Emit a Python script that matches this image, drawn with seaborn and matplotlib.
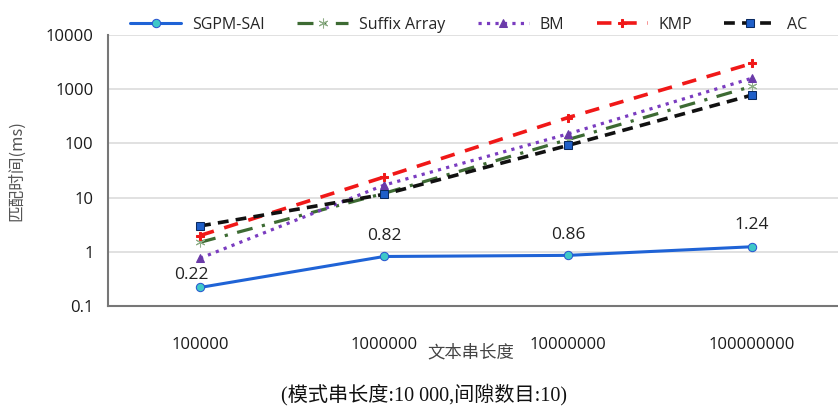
import numpy as np
import pandas as pd
import matplotlib
matplotlib.use("Agg")
import matplotlib.pyplot as plt
import seaborn as sns

# data (ms, log scale)
text_len = ["100000", "1000000", "10000000", "100000000"]
sgpm_sai = [0.22, 0.82, 0.86, 1.24]
suffix_array = [1.5, 12, 118, 1130]
bm = [0.76, 17, 150, 1600]
kmp = [2.0, 24, 300, 3000]
ac = [3.0, 11.5, 92, 780]

y_ticks = [0.1, 1, 10, 100, 1000, 10000]
y_tick_labels = ["0.1", "1", "10", "100", "1000", "10000"]

sns.set_theme(style="white")
plt.rcParams['font.family'] = ['Open Sans', 'Noto Sans CJK SC', 'DejaVu Sans']

fig = plt.figure(figsize=(8.38, 4.08), dpi=100)
ax = fig.add_axes([0.129, 0.25, 0.878, 0.664])

x = np.arange(len(text_len))

series = [
    ("SGPM-SAI", sgpm_sai, dict(color="#1f63d6", linestyle="-", linewidth=2.2,
                                marker="o", markersize=6, markerfacecolor="#3ec8c8",
                                markeredgecolor="#2a58d0")),
    ("Suffix Array", suffix_array, dict(color="#3d6b33", linestyle=(0, (5, 3, 1, 3)), linewidth=2.3,
                                        marker=(6, 2, 0), markersize=7, markerfacecolor="#8fae88",
                                        markeredgecolor="#8fae88")),
    ("BM", bm, dict(color="#7a3cc0", linestyle=":", linewidth=2.3,
                    marker="^", markersize=6, markerfacecolor="#6a3aa8",
                    markeredgecolor="#6a3aa8")),
    ("KMP", kmp, dict(color="#f01818", linestyle=(0, (4, 3)), linewidth=2.6,
                      marker="P", markersize=6, markerfacecolor="#f01818",
                      markeredgecolor="#f01818")),
    ("AC", ac, dict(color="#111111", linestyle=(0, (3, 2)), linewidth=2.6,
                    marker="s", markersize=5.5, markerfacecolor="#1f5fc8",
                    markeredgecolor="#0a2a60")),
]

for name, vals, kw in series:
    sns.lineplot(x=x, y=vals, ax=ax, label=name, **kw)

ax.set_yscale("log")
ax.set_ylim(0.1, 10000)
ax.set_yticks(y_ticks)
ax.set_yticklabels(y_tick_labels)
ax.minorticks_off()
ax.set_xlim(-0.5, 3.5)
ax.set_xticks(x)
ax.set_xticklabels(text_len)
ax.set_xticks(np.arange(-0.5, 4, 1), minor=True)

ax.yaxis.grid(True, color="#dcdcdc", linewidth=1.2)
ax.xaxis.grid(False)
for s in ["top", "right"]:
    ax.spines[s].set_visible(False)
for s in ["left", "bottom"]:
    ax.spines[s].set_color("#777777")
    ax.spines[s].set_linewidth(1.5)
ax.tick_params(axis="both", which="both", direction="inout", length=9, width=1.5,
               color="#555555", labelsize=12, labelcolor="#1a1a1a")
ax.tick_params(axis="x", which="major", pad=18)
ax.tick_params(axis="x", which="minor", length=9)
ax.tick_params(axis="y", pad=6)

# value labels on SGPM-SAI
offsets = [(-6, 3), (0, 9), (0, 9), (0, 10)]
for xi, v, off in zip(x, sgpm_sai, offsets):
    ax.annotate(f"{v:.2f}", (xi, v), textcoords="offset points", xytext=off,
                ha="center", va="bottom", fontsize=12.5, color="#222222")

ax.set_ylabel("匹配时间(ms)", fontsize=12, color="#555555",
              family=['Noto Sans CJK SC', 'DejaVu Sans'], labelpad=15)
ax.set_xlabel("")
fig.text(0.562, 0.137, "文本串长度", ha="center", va="center", fontsize=12.5,
         color="#444444", family=['Noto Sans CJK SC', 'DejaVu Sans'])
fig.text(0.506, 0.032, "(模式串长度:10 000,间隙数目:10)", ha="center", va="center",
         fontsize=14.5, color="#111111", family=['Liberation Serif', 'Noto Sans CJK SC'])

ax.legend(loc="lower center", bbox_to_anchor=(0.49, 0.985), ncol=5, frameon=False,
          fontsize=11.5, handlelength=3.2, columnspacing=2.0, handletextpad=0.7,
          borderaxespad=0)

fig.savefig("out.png", dpi=100)
